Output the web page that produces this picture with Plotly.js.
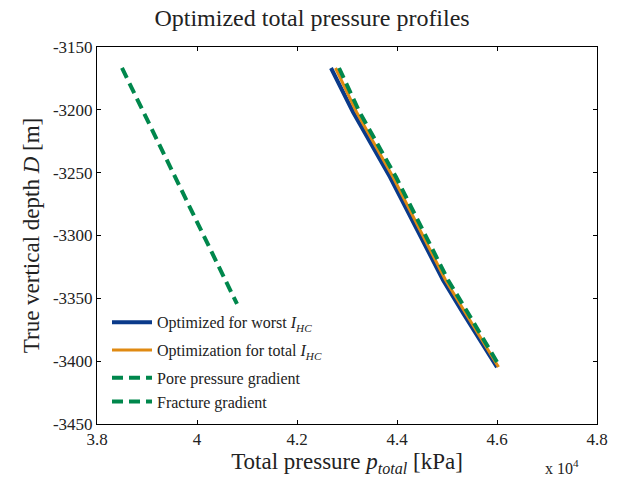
<!DOCTYPE html>
<html>
<head>
<meta charset="utf-8">
<script src="https://cdn.plot.ly/plotly-3.0.1.min.js"></script>
<style>html,body{margin:0;padding:0;background:#fff;}#chart{width:618px;height:487px;}</style>
</head>
<body>
<div id="chart"></div>
<script>
// Data (pressure in kPa, depth in m)
const depthRight = [-3166.7, -3189.8, -3201.7, -3253.5, -3335.4, -3361.7, -3383.2, -3404.7];
const worstIHC   = [42680, 42960, 43120, 43860, 44920, 45320, 45660, 46000];
const totalIHC   = [42770, 43040, 43190, 43920, 44970, 45370, 45700, 46030];
const fracture   = [42840, 43100, 43250, 43980, 45020, 45420, 45740, 46060];
const depthPore  = [-3166.7, -3354.5];
const porePress  = [38500, 40800];

const xTickVals = [38000, 40000, 42000, 44000, 46000, 48000];
const xTickText = ['3.8', '4', '4.2', '4.4', '4.6', '4.8'];
const yTickVals = [-3450, -3400, -3350, -3300, -3250, -3200, -3150];
const yTickText = ['-3450', '-3400', '-3350', '-3300', '-3250', '-3200', '-3150'];

const serif = 'Liberation Serif, Times New Roman, serif';
const blue = '#0a3a8a', orange = '#e08a12', green = '#00874c';

const traces = [
  {x: worstIHC, y: depthRight, mode: 'lines', name: 'Optimized for worst <i>I</i><sub><i>HC</i></sub>',
   legendgroup: 'g1', line: {color: blue, width: 4}},
  {x: totalIHC, y: depthRight, mode: 'lines', name: 'Optimization for total <i>I</i><sub><i>HC</i></sub>',
   legendgroup: 'g2', line: {color: orange, width: 3}},
  {x: porePress, y: depthPore, mode: 'lines', name: 'Pore pressure gradient',
   legendgroup: 'g3', line: {color: green, width: 4, dash: '11px,6px'}},
  {x: fracture, y: depthRight, mode: 'lines', name: 'Fracture gradient',
   legendgroup: 'g3', line: {color: green, width: 4, dash: '11px,6px'}}
];

const axisCommon = {
  showgrid: false, zeroline: false, showline: true, linecolor: '#000', linewidth: 1,
  mirror: 'ticks', ticks: 'inside', ticklen: 4, tickcolor: '#000',
  tickfont: {family: serif, size: 17, color: '#222'}, tickmode: 'array'
};

const layout = {
  width: 618, height: 487,
  margin: {l: 97, r: 21, t: 47, b: 63},
  paper_bgcolor: '#fff', plot_bgcolor: '#fff',
  font: {family: serif, color: '#222'},
  title: {text: 'Optimized total pressure profiles', xref: 'container', x: 0.505, xanchor: 'center',
          yref: 'container', y: 0.963, yanchor: 'middle', font: {family: serif, size: 24, color: '#222'}},
  xaxis: Object.assign({}, axisCommon, {
    range: [38000, 48000], tickvals: xTickVals, ticktext: xTickText,
    title: {text: 'Total pressure <i>p</i><sub><i>total</i></sub> [kPa]', font: {family: serif, size: 23, color: '#222'}, standoff: 4}
  }),
  yaxis: Object.assign({}, axisCommon, {
    range: [-3450, -3150], tickvals: yTickVals, ticktext: yTickText,
    title: {text: 'True vertical depth <i>D</i> [m]', font: {family: serif, size: 23, color: '#222'}, standoff: 6}
  }),
  showlegend: true,
  legend: {x: 0.02, y: 0.315, xanchor: 'left', yanchor: 'top', bgcolor: 'rgba(0,0,0,0)',
           font: {family: serif, size: 16, color: '#222'}, tracegroupgap: 4, itemwidth: 40},
  annotations: [{text: 'x 10<sup>4</sup>', xref: 'paper', yref: 'paper', x: 0.93, y: -0.114,
                 xanchor: 'center', yanchor: 'middle', showarrow: false, font: {family: serif, size: 16, color: '#222'}}]
};

Plotly.newPlot('chart', traces, layout, {displayModeBar: false, staticPlot: true});
</script>
</body>
</html>
